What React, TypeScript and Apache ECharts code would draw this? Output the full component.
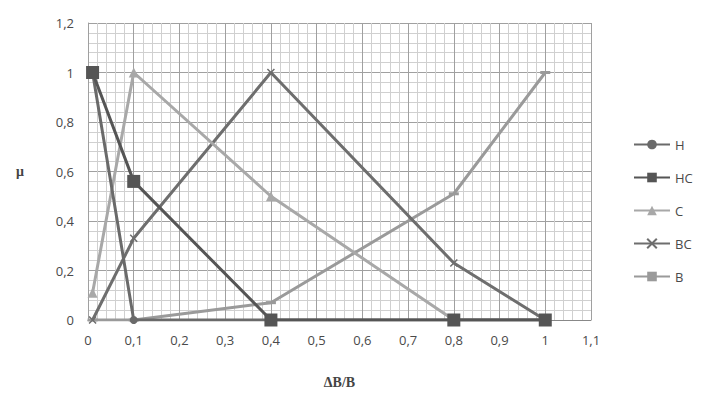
import React, { useEffect, useRef } from "react";
import * as echarts from "echarts";

const xValues = [0.01, 0.1, 0.4, 0.8, 1];
const seriesNames = ["H", "HC", "C", "BC", "B"];
const hValues = [1, 0, 0, 0, 0];
const hcValues = [1, 0.56, 0, 0, 0];
const cValues = [0.11, 1, 0.5, 0, 0];
const bcValues = [0, 0.33, 1, 0.23, 0];
const bValues = [0, 0, 0.07, 0.51, 1];

const fmt = (v: number) => String(+v.toFixed(2)).replace(".", ",");

export default function App() {
  const ref = useRef<HTMLDivElement>(null);
  useEffect(() => {
    document.body.style.margin = "0";
    const chart = echarts.init(ref.current!, null, { renderer: "svg" });
    const pairs = (ys: number[]) => xValues.map((x, i) => [x, ys[i]]);
    const xPath = "path://M0,0 L10,10 M10,0 L0,10";
    const mk = (
      name: string,
      ys: number[],
      color: string,
      symbol: string,
      symbolSize: number | number[],
      z: number
    ) => ({
      name,
      type: "line",
      data: pairs(ys),
      symbol,
      symbolSize,
      showSymbol: true,
      z,
      lineStyle: { color, width: 3 },
      itemStyle: { color, borderColor: color, borderWidth: symbol === xPath ? 1.5 : 0 },
      emphasis: { disabled: true },
    });
    chart.setOption({
      animation: false,
      backgroundColor: "#ffffff",
      grid: { left: 88, right: 111, top: 23, bottom: 81, containLabel: false },
      legend: {
        orient: "vertical",
        left: 628,
        top: 133,
        itemWidth: 36,
        itemHeight: 12,
        itemGap: 20,
        data: seriesNames,
        textStyle: { color: "#4a4a4a", fontFamily: "Open Sans, sans-serif", fontSize: 13 },
      },
      xAxis: {
        type: "value",
        min: 0,
        max: 1.1,
        interval: 0.1,
        name: "ΔB/B",
        nameLocation: "middle",
        nameGap: 55,
        nameTextStyle: {
          fontFamily: "Liberation Serif, serif",
          fontWeight: "bold",
          fontSize: 14,
          color: "#444",
        },
        axisLine: { show: true, lineStyle: { color: "#888", width: 1 } },
        axisTick: { show: false },
        axisLabel: {
          formatter: (v: number) => fmt(v),
          color: "#4a4a4a",
          fontFamily: "Open Sans, sans-serif",
          fontSize: 13,
          margin: 13,
        },
        splitLine: { show: true, lineStyle: { color: "#a0a0a0", width: 1 } },
        minorTick: { show: false, splitNumber: 5 },
        minorSplitLine: { show: true, lineStyle: { color: "#d0d0d0", width: 1 } },
      },
      yAxis: {
        type: "value",
        min: 0,
        max: 1.2,
        interval: 0.2,
        name: "μ",
        nameLocation: "middle",
        nameGap: 64,
        nameRotate: 0,
        nameTextStyle: {
          fontFamily: "Liberation Serif, serif",
          fontWeight: "bold",
          fontSize: 14,
          color: "#444",
        },
        axisLine: { show: true, lineStyle: { color: "#a0a0a0", width: 1 } },
        axisTick: { show: false },
        axisLabel: {
          formatter: (v: number) => fmt(v),
          color: "#4a4a4a",
          fontFamily: "Open Sans, sans-serif",
          fontSize: 13,
          margin: 14,
        },
        splitLine: { show: true, lineStyle: { color: "#a0a0a0", width: 1 } },
        minorTick: { show: false, splitNumber: 5 },
        minorSplitLine: { show: true, lineStyle: { color: "#d0d0d0", width: 1 } },
      },
      series: [
        mk("H", hValues, "#6a6a6a", "circle", 8, 5),
        mk("HC", hcValues, "#555555", "rect", 13, 6),
        mk("C", cValues, "#a8a8a8", "triangle", 10, 4),
        mk("BC", bcValues, "#6e6e6e", xPath, 7, 3),
        mk("B", bValues, "#9a9a9a", "rect", [10, 3], 2),
      ],
    });
    return () => chart.dispose();
  }, []);
  return (
    <div
      ref={ref}
      style={{ position: "absolute", left: 0, top: 0, width: 702, height: 401 }}
    />
  );
}
